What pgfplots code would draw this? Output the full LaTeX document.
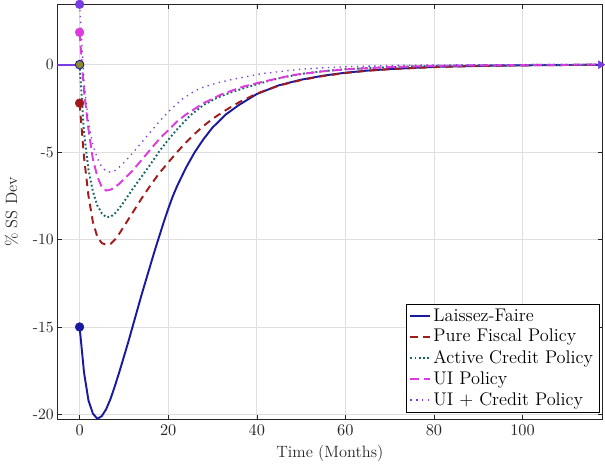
\documentclass[border=0pt]{standalone}
\usepackage{pgfplots}
\pgfplotsset{compat=1.18}
\definecolor{cblue}{RGB}{26,26,160}
\definecolor{cred}{RGB}{160,28,28}
\definecolor{cteal}{RGB}{22,104,104}
\definecolor{cmag}{RGB}{220,60,220}
\definecolor{cpur}{RGB}{122,60,228}
\definecolor{colive}{RGB}{140,140,40}
\definecolor{axgray}{RGB}{38,38,38}
\begin{document}
\begin{tikzpicture}
\begin{axis}[
  scale only axis,
  width=366pt, height=279pt,
  xmin=-5, xmax=118, ymin=-20.3, ymax=3.45,
  xtick={0,20,40,60,80,100},
  ytick={-20,-15,-10,-5,0},
  yticklabels={{-20},{-15},{-10},{-5},{0}},
  tick align=inside,
  tick pos=both,
  major tick length=3pt,
  grid=major,
  grid style={gray!25, line width=0.4pt},
  axis line style={axgray, line width=0.6pt},
  tick style={axgray},
  ticklabel style={font=\fontsize{10.5}{12}\selectfont, text=axgray},
  yticklabel style={xshift=1pt},
  xlabel={Time (Months)}, ylabel={\% SS Dev},
  label style={font=\fontsize{11}{13}\selectfont, text=axgray},
  xlabel style={yshift=0.5pt},
  ylabel style={yshift=3pt},
  clip mode=individual,
  legend cell align=left,
  legend style={at={(1,0)}, anchor=south east, xshift=-2pt, yshift=5pt,
    draw=black, fill=white, font=\fontsize{12.3}{14.8}\selectfont,
    row sep=0pt, inner xsep=2pt, inner ysep=1pt},
  legend image code/.code={\draw[#1] (0cm,0cm) -- (0.45cm,0cm);},
]
\addplot[cblue, line width=1.3pt] coordinates {(0,-15.0)(1,-17.6)(2,-19.2)(3,-19.95)(4,-20.25)(5,-20.1)(6,-19.7)(7,-19.1)(8,-18.35)(9,-17.55)(10,-16.7)(11,-15.85)(12,-14.95)(13,-14.05)(14,-13.15)(15,-12.3)(16,-11.45)(17,-10.6)(18,-9.8)(19,-9.0)(20,-8.25)(21,-7.55)(22,-6.95)(24,-5.9)(26,-5.0)(28,-4.25)(30,-3.6)(33,-2.85)(36,-2.3)(40,-1.68)(45,-1.18)(50,-0.86)(55,-0.63)(60,-0.46)(65,-0.34)(70,-0.25)(80,-0.13)(90,-0.07)(100,-0.04)(110,-0.02)(118,-0.01)};
\addlegendentry{Laissez-Faire}
\addplot[cred, line width=1.3pt, dash pattern=on 5pt off 3.5pt] coordinates {(0,-2.2)(1,-5.3)(2,-7.5)(3,-9.0)(4,-9.85)(5,-10.2)(6,-10.3)(7,-10.25)(8,-10.0)(9,-9.65)(10,-9.25)(12,-8.45)(14,-7.65)(16,-6.9)(18,-6.2)(20,-5.6)(22,-5.0)(24,-4.45)(26,-3.95)(28,-3.5)(30,-3.1)(33,-2.6)(36,-2.15)(40,-1.65)(45,-1.2)(50,-0.88)(55,-0.65)(60,-0.48)(65,-0.35)(70,-0.26)(80,-0.14)(90,-0.08)(100,-0.04)(110,-0.02)(118,-0.01)};
\addlegendentry{Pure Fiscal Policy}
\addplot[cteal, line width=1.3pt, dash pattern=on 1.2pt off 1.6pt] coordinates {(0,0)(1,-3.9)(2,-6.0)(3,-7.25)(4,-8.05)(5,-8.5)(6,-8.72)(7,-8.7)(8,-8.5)(9,-8.2)(10,-7.85)(12,-7.1)(14,-6.4)(16,-5.7)(18,-4.95)(20,-4.3)(22,-3.7)(25,-2.9)(28,-2.3)(31,-1.9)(34,-1.6)(38,-1.27)(42,-0.98)(45,-0.78)(50,-0.53)(55,-0.37)(60,-0.26)(70,-0.13)(80,-0.07)(90,-0.04)(100,-0.02)(118,0)};
\addlegendentry{Active Credit Policy}
\addplot[cmag, line width=1.3pt, dash pattern=on 6pt off 3pt] coordinates {(0,1.85)(1,-1.5)(2,-3.7)(3,-5.4)(4,-6.4)(5,-7.0)(6,-7.2)(7,-7.15)(8,-7.0)(9,-6.8)(10,-6.55)(12,-6.05)(14,-5.45)(16,-4.85)(18,-4.25)(20,-3.75)(22,-3.25)(24,-2.85)(28,-2.2)(32,-1.7)(37,-1.25)(41,-1.0)(48,-0.6)(55,-0.38)(60,-0.27)(70,-0.14)(80,-0.07)(90,-0.04)(100,-0.02)(118,0)};
\addlegendentry{UI Policy}
\addplot[cpur, line width=0.9pt, dash pattern=on 0.9pt off 3pt] coordinates {(0,3.45)(1,-1.0)(2,-3.3)(3,-4.6)(4,-5.35)(5,-5.85)(6,-6.1)(7,-6.15)(8,-6.05)(9,-5.85)(10,-5.6)(12,-5.05)(14,-4.45)(16,-3.85)(18,-3.25)(20,-2.7)(23,-2.0)(26,-1.5)(28,-1.28)(31,-1.05)(34,-0.87)(41,-0.52)(50,-0.26)(55,-0.18)(60,-0.12)(70,-0.05)(80,-0.02)(100,0)(118,0)};
\addlegendentry{UI + Credit Policy}
% pre-shock steady state
\addplot[forget plot, cpur, line width=1.5pt] coordinates {(-5,0)(0,0)};
% impact markers
\addplot[forget plot, only marks, mark=*, mark size=2.9pt, color=cblue] coordinates {(0,-15)};
\addplot[forget plot, only marks, mark=*, mark size=2.9pt, color=cred] coordinates {(0,-2.2)};
\addplot[forget plot, only marks, mark=*, mark size=2.9pt, color=cmag] coordinates {(0,1.85)};
\addplot[forget plot, only marks, mark=*, mark size=2.9pt, color=cpur] coordinates {(0,3.45)};
\addplot[forget plot, only marks, mark=*, mark size=2.9pt, draw=cblue, fill=colive, mark options={line width=0.6pt}] coordinates {(0,0)};
% end marker
\addplot[forget plot, only marks, mark=triangle*, mark size=3pt, color=cpur, mark options={rotate=-90}] coordinates {(117.6,0)};
\end{axis}
\end{tikzpicture}
\end{document}
